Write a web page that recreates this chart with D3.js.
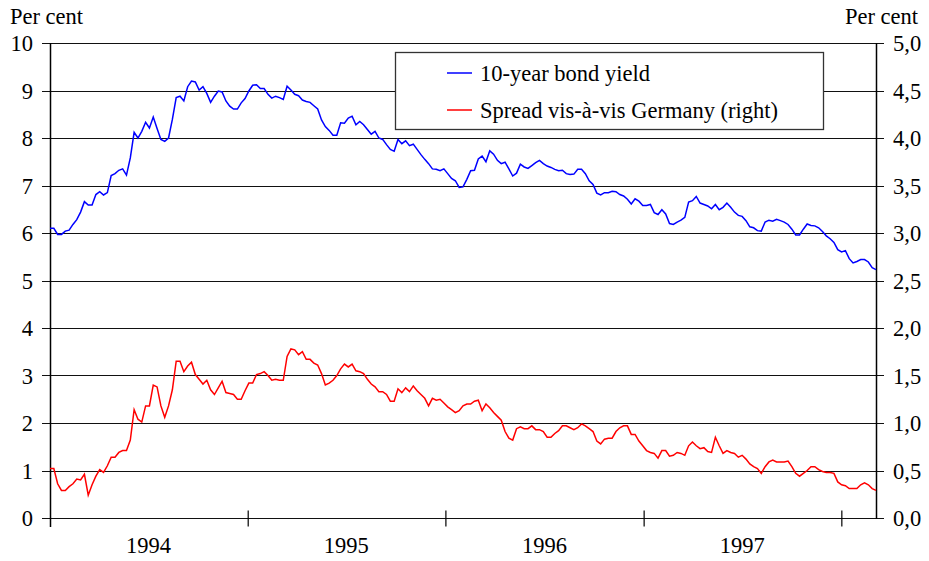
<!DOCTYPE html>
<html lang="en">
<head>
    <meta charset="UTF-8">
    <title>Bond yield and spread</title>
    <script src="https://d3js.org/d3.v7.min.js"></script>
    <style>
        body { margin: 0; background: #fff; }
        text { font-family: "Liberation Serif", "Times New Roman", serif; fill: #000; }
    </style>
</head>
<body>
<script>

    // weekly readings, first week of Jan 1994 to early March 1998
    var startDate = new Date(1994, 0, 1);
    var endDate = new Date(1998, 2, 6);

    // 10-year bond yield, per cent (left axis)
    var bondYield = [
        6.10, 6.10, 5.97, 5.97, 6.04, 6.06, 6.18, 6.28, 6.44, 6.66,
        6.59, 6.59, 6.81, 6.87, 6.80, 6.85, 7.21, 7.25, 7.32, 7.35,
        7.22, 7.58, 8.12, 8.00, 8.14, 8.33, 8.21, 8.44, 8.20, 7.97,
        7.93, 8.00, 8.39, 8.85, 8.88, 8.78, 9.08, 9.20, 9.18, 9.01,
        9.08, 8.94, 8.75, 8.88, 8.99, 8.97, 8.78, 8.67, 8.61, 8.61,
        8.74, 8.83, 8.99, 9.11, 9.12, 9.04, 9.04, 8.92, 8.84, 8.88,
        8.85, 8.81, 9.09, 9.01, 8.92, 8.89, 8.80, 8.77, 8.75, 8.68,
        8.61, 8.38, 8.24,
        8.16, 8.06, 8.06, 8.32, 8.31, 8.42, 8.46, 8.28, 8.35, 8.28,
        8.18, 8.08, 8.14, 8.00, 7.97, 7.86, 7.76, 7.72, 7.97, 7.88,
        7.94, 7.84, 7.87, 7.76, 7.65, 7.55, 7.46, 7.35, 7.34, 7.31,
        7.35, 7.25, 7.15, 7.10, 6.96, 6.97, 7.13, 7.31, 7.32, 7.56,
        7.62, 7.50, 7.73, 7.66, 7.53, 7.46, 7.49, 7.35, 7.20, 7.26,
        7.45, 7.39, 7.36, 7.42, 7.48, 7.53, 7.46, 7.41, 7.38, 7.34,
        7.31, 7.32, 7.25, 7.23, 7.24, 7.34, 7.34, 7.25, 7.10, 7.02,
        6.84,
        6.80, 6.85, 6.85, 6.88, 6.87, 6.81, 6.78, 6.71, 6.61, 6.72,
        6.67, 6.58, 6.58, 6.60, 6.43, 6.39, 6.49, 6.40, 6.20, 6.18,
        6.23, 6.27, 6.33, 6.65, 6.68, 6.77, 6.63, 6.60, 6.57, 6.51,
        6.60, 6.49, 6.54, 6.63, 6.54, 6.44, 6.37, 6.35, 6.26, 6.13,
        6.11, 6.05, 6.04, 6.23, 6.27, 6.25, 6.29, 6.26, 6.23, 6.18,
        6.08, 5.96, 5.96, 6.08, 6.19, 6.16, 6.15, 6.11, 6.03, 5.94,
        5.88, 5.80, 5.65, 5.60, 5.63, 5.46, 5.37, 5.40, 5.44, 5.44,
        5.39, 5.27, 5.23
    ];

    // spread vis-a-vis Germany, percentage points (right axis)
    var spread = [
        0.52, 0.52, 0.36, 0.29, 0.29, 0.33, 0.36, 0.41, 0.40, 0.46,
        0.24, 0.35, 0.44, 0.51, 0.48, 0.55, 0.64, 0.64, 0.69, 0.71,
        0.71, 0.82, 1.14, 1.04, 1.01, 1.18, 1.18, 1.40, 1.38, 1.18,
        1.06, 1.18, 1.35, 1.65, 1.65, 1.54, 1.60, 1.64, 1.51, 1.46,
        1.41, 1.45, 1.35, 1.30, 1.37, 1.44, 1.32, 1.31, 1.30, 1.25,
        1.25, 1.34, 1.42, 1.42, 1.51, 1.52, 1.54, 1.50, 1.45, 1.46,
        1.45, 1.45, 1.70, 1.78, 1.77, 1.72, 1.75, 1.67, 1.67, 1.63,
        1.61, 1.52, 1.40,
        1.42, 1.45, 1.50, 1.57, 1.62, 1.59, 1.62, 1.55, 1.54, 1.52,
        1.46, 1.41, 1.38, 1.33, 1.33, 1.30, 1.23, 1.23, 1.36, 1.32,
        1.37, 1.33, 1.39, 1.34, 1.30, 1.26, 1.18, 1.26, 1.24, 1.25,
        1.21, 1.17, 1.14, 1.11, 1.13, 1.18, 1.20, 1.20, 1.23, 1.24,
        1.13, 1.20, 1.16, 1.11, 1.07, 1.03, 0.91, 0.84, 0.82, 0.94,
        0.96, 0.94, 0.94, 0.97, 0.93, 0.93, 0.91, 0.85, 0.85, 0.89,
        0.92, 0.97, 0.97, 0.95, 0.93, 0.95, 0.99, 0.97, 0.94, 0.91,
        0.81,
        0.78, 0.83, 0.84, 0.84, 0.91, 0.95, 0.97, 0.97, 0.88, 0.88,
        0.81, 0.76, 0.71, 0.69, 0.68, 0.63, 0.71, 0.71, 0.65, 0.66,
        0.69, 0.68, 0.66, 0.76, 0.80, 0.76, 0.73, 0.74, 0.70, 0.69,
        0.85, 0.76, 0.68, 0.71, 0.69, 0.68, 0.64, 0.66, 0.62, 0.57,
        0.54, 0.52, 0.47, 0.54, 0.59, 0.61, 0.59, 0.59, 0.59, 0.60,
        0.54, 0.47, 0.44, 0.47, 0.50, 0.54, 0.54, 0.51, 0.49, 0.48,
        0.48, 0.47, 0.38, 0.35, 0.34, 0.31, 0.31, 0.31, 0.35, 0.37,
        0.35, 0.31, 0.29
    ];

    var yearLabels = ['1994', '1995', '1996', '1997'];
    var leftTicks = [0, 1, 2, 3, 4, 5, 6, 7, 8, 9, 10];
    var rightTicks = [0, 0.5, 1, 1.5, 2, 2.5, 3, 3.5, 4, 4.5, 5];
    var seriesNames = ['10-year bond yield', 'Spread vis-\u00e0-vis Germany (right)'];

    var w = 929, h = 561;
    var plotL = 50, plotR = 876, plotT = 43, plotB = 518;
    var fs = 22.5;

    var svg = d3.select('body')
                .append('svg')
                .attr('width', w)
                .attr('height', h);

    // one date per reading, spread evenly over the period
    var n = bondYield.length;
    var dates = d3.range(n).map(function (i) {
        return new Date(+startDate + i * (endDate - startDate) / (n - 1));
    });

    var xScale = d3.scaleTime()
                   .domain([startDate, endDate])
                   .range([plotL, plotR]);
    var yLeft = d3.scaleLinear().domain([0, 10]).range([plotB, plotT]);
    var yRight = d3.scaleLinear().domain([0, 5]).range([plotB, plotT]);

    var comma = d3.formatLocale({ decimal: ',', thousands: '.', grouping: [3], currency: ['', ''] }).format('.1f');

    // gridlines (they also act as the ticks on both sides)
    svg.append('g')
        .selectAll('line')
        .data(leftTicks)
        .enter()
        .append('line')
        .attr('x1', plotL - 8)
        .attr('x2', plotR + 8)
        .attr('y1', d => Math.round(yLeft(d)) + 0.5)
        .attr('y2', d => Math.round(yLeft(d)) + 0.5)
        .attr('stroke', '#111')
        .attr('stroke-width', 1.2);

    // left axis labels
    var gLeft = svg.append('g')
        .attr('transform', 'translate(' + plotL + ',0.5)')
        .call(d3.axisLeft(yLeft).tickValues(leftTicks).tickSize(8).tickPadding(9));
    gLeft.select('.domain').remove();
    gLeft.selectAll('line').remove();
    gLeft.selectAll('text').attr('font-size', fs);
    gLeft.attr('font-family', null).attr('font-size', null);

    // right axis labels
    var gRight = svg.append('g')
        .attr('transform', 'translate(' + plotR + ',0.5)')
        .call(d3.axisRight(yRight).tickValues(rightTicks).tickFormat(comma).tickSize(8).tickPadding(9));
    gRight.select('.domain').remove();
    gRight.selectAll('line').remove();
    gRight.selectAll('text').attr('font-size', fs);
    gRight.attr('font-family', null).attr('font-size', null);

    // vertical frame lines
    svg.append('line')
        .attr('x1', plotL + 0.5).attr('x2', plotL + 0.5)
        .attr('y1', plotT).attr('y2', plotB + 9)
        .attr('stroke', '#000').attr('stroke-width', 1.5);
    svg.append('line')
        .attr('x1', plotR + 0.5).attr('x2', plotR + 0.5)
        .attr('y1', plotT).attr('y2', plotB + 1)
        .attr('stroke', '#000').attr('stroke-width', 1.5);

    // x axis: year boundaries as ticks, year names in between
    var yearStarts = d3.timeYear.range(new Date(1995, 0, 1), new Date(1999, 0, 1));
    var gx = svg.append('g')
        .attr('transform', 'translate(0,' + (plotB + 0.5) + ')')
        .call(d3.axisBottom(xScale).tickValues(yearStarts).tickSize(8).tickFormat(''));
    gx.select('.domain').remove();
    gx.selectAll('line').attr('y1', -8).attr('stroke-width', 1.2);

    svg.append('g')
        .selectAll('text')
        .data(yearLabels)
        .enter()
        .append('text')
        .attr('x', d => xScale(new Date(+d, 6, 2)))
        .attr('y', 553)
        .attr('text-anchor', 'middle')
        .attr('font-size', fs)
        .text(d => d);

    // axis titles
    svg.append('text').attr('x', 10).attr('y', 24).attr('font-size', fs).text('Per cent');
    svg.append('text').attr('x', 918).attr('y', 24).attr('font-size', fs)
        .attr('text-anchor', 'end').text('Per cent');

    // lines
    var lineLeft = d3.line()
        .x((d, i) => xScale(dates[i]))
        .y(d => yLeft(d));
    var lineRight = d3.line()
        .x((d, i) => xScale(dates[i]))
        .y(d => yRight(d));

    svg.append('path')
        .datum(spread)
        .attr('d', lineRight)
        .attr('fill', 'none')
        .attr('stroke', '#ff0000')
        .attr('stroke-width', 1.5);

    svg.append('path')
        .datum(bondYield)
        .attr('d', lineLeft)
        .attr('fill', 'none')
        .attr('stroke', '#0000ff')
        .attr('stroke-width', 1.5);

    // legend
    var legend = svg.append('g');
    legend.append('rect')
        .attr('x', 395.5).attr('y', 52.5)
        .attr('width', 428).attr('height', 77)
        .attr('fill', '#fff')
        .attr('stroke', '#333')
        .attr('stroke-width', 1.3);

    var colors = ['#0000ff', '#ff0000'];
    seriesNames.forEach(function (name, i) {
        var ly = 73 + i * 37;
        legend.append('line')
            .attr('x1', 447).attr('x2', 472)
            .attr('y1', ly).attr('y2', ly)
            .attr('stroke', colors[i])
            .attr('stroke-width', 1.5);
        legend.append('text')
            .attr('x', 480).attr('y', ly + 7.5)
            .attr('font-size', fs)
            .text(name);
    });

</script>
</body>
</html>
